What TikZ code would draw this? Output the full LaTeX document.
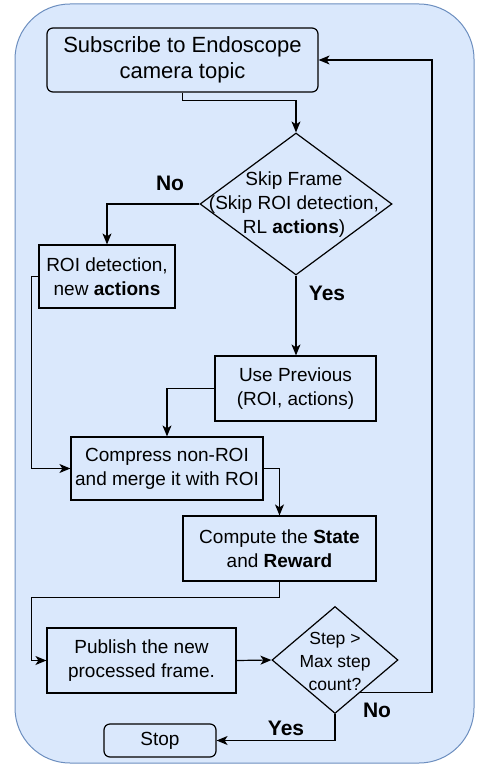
\documentclass[tikz,border=0pt]{standalone}
\usepackage{fontspec}
\setmainfont{Liberation Sans}
\usetikzlibrary{shapes.geometric,arrows.meta,calc}

\definecolor{panelfill}{HTML}{DAE8FC}
\definecolor{paneldraw}{HTML}{6C8EBF}

\tikzset{
  every node/.style={font=\fontsize{19}{24}\selectfont},
  box/.style={draw, line width=1.2pt, rectangle, inner sep=0pt, align=center},
  rbox/.style={box, rounded corners=6pt},
  decision/.style={draw, line width=1.2pt, diamond, inner sep=0pt},
  flow/.style={line width=1.2pt, -{Stealth[length=11pt,width=9pt,inset=3pt]}},
  answer/.style={font=\fontsize{21}{24}\selectfont\bfseries}
}

\begin{document}
\begin{tikzpicture}[x=1pt,y=-1pt]
  \useasboundingbox (0,0) rectangle (476,775);

  % panel behind the flow chart
  \draw[fill=panelfill, draw=paneldraw, line width=1pt, rounded corners=55pt]
    (15,4) rectangle (474,763);

  % process steps
  \node[rbox, minimum width=271pt, minimum height=64pt,
        font=\fontsize{22}{26}\selectfont] (sub) at (182.5,60)
        {Subscribe to Endoscope\\camera topic};
  \node[decision, minimum width=192pt, minimum height=142pt] (d1) at (296,204) {};
  \node[align=center] (d1text) at (294,205)
        {Skip Frame\\(Skip ROI detection,\\RL \textbf{actions})};
  \node[box, minimum width=136pt, minimum height=63pt] (roi) at (107,276.5)
        {ROI detection,\\new \textbf{actions}};
  \node[box, minimum width=161pt, minimum height=65pt] (prev) at (295.5,388.5)
        {Use Previous\\(ROI, actions)};
  \node[box, minimum width=192pt, minimum height=63pt] (comp) at (167,468.5)
        {Compress non-ROI\\and merge it with ROI};
  \node[box, minimum width=193pt, minimum height=65pt] (state) at (279.5,548.5)
        {Compute the \textbf{State}\\and \textbf{Reward}};
  \node[box, minimum width=189pt, minimum height=65pt] (pub) at (141.5,660.5)
        {Publish the new\\processed frame.};
  \node[decision, minimum width=126pt, minimum height=107pt] (d2) at (335,660) {};
  \node[align=center, font=\fontsize{17.5}{23}\selectfont] (d2text) at (335,661)
        {Step >\\Max step\\count?};
  \node[rbox, minimum width=112pt, minimum height=33pt] (stop) at (160,740.5) {Stop};

  % branch labels
  \node[answer] (no1) at (170,183) {No};
  \node[answer] (yes1) at (327,293) {Yes};
  \node[answer] (no2) at (377,710) {No};
  \node[answer] (yes2) at (286,728) {Yes};

  % helper points for the loops
  \coordinate (noexit) at ($(d2.east)!0.6!(d2.south)$);
  \coordinate (rightrail) at (432,0);

  % connectors
  \draw[flow] (sub.south) -- ++(0,8) -| (d1.north);
  \draw[flow] (d1.west) -| (roi.north);
  \draw[flow] (d1.south) -- (d1.south |- prev.north);
  \draw[flow] (roi.west) -- ++(-7,0) |- (comp.west);
  \draw[flow] (prev.west) -| (comp.north);
  \draw[flow] (comp.east) -| (state.north);
  \draw[flow] (state.south) -- ++(0,16) -| ([xshift=-15pt]pub.west) -- (pub.west);
  \draw[flow] (pub.east) -- (d2.west);
  \draw[flow] (noexit) -- (noexit -| rightrail) |- (sub.east);
  \draw[flow] (d2.south) |- (stop.east);
\end{tikzpicture}
\end{document}
